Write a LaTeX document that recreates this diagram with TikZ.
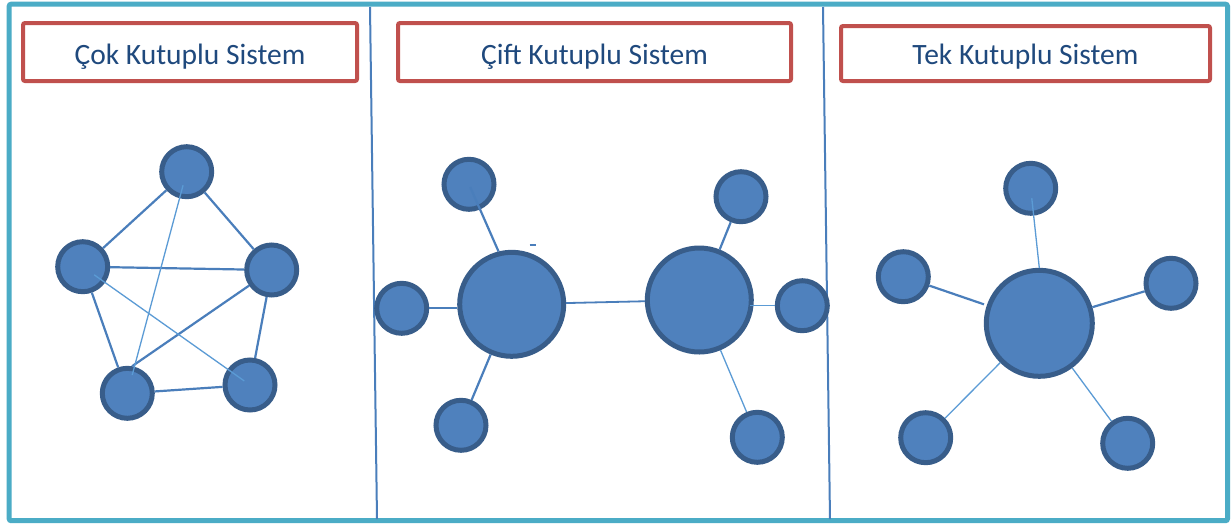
\documentclass[tikz,border=0pt]{standalone}
\usepackage{fontspec}
\setmainfont{Carlito}
\definecolor{frameteal}{HTML}{4BACC6}
\definecolor{boxred}{HTML}{C0504D}
\definecolor{textblue}{HTML}{1F497D}
\definecolor{circfill}{HTML}{4F81BD}
\definecolor{circedge}{HTML}{385D8A}
\definecolor{linedark}{HTML}{4A7EBB}
\definecolor{linelight}{HTML}{5B9BD5}
\begin{document}
\begin{tikzpicture}[x=1pt,y=-1pt,
  sat/.style={circle, draw=circedge, fill=circfill, line width=5pt, minimum size=50pt, inner sep=0pt},
  hubnode/.style={sat, minimum size=104pt},
  strongline/.style={draw=linedark, line width=2.2pt},
  softline/.style={draw=linelight, line width=1.3pt},
  divider/.style={draw=linedark, line width=2pt},
  titlebox/.style={draw=boxred, line width=4pt, rounded corners=2pt, minimum height=58pt, inner sep=0pt},
  titletext/.style={text=textblue, font=\fontsize{29.5}{35}\selectfont, anchor=base, inner sep=0pt},
]
\useasboundingbox (0,0) rectangle (1232,523);
\fill[white] (0,0) rectangle (1232,523);
% outer frame
\draw[draw=frameteal, line width=5pt, rounded corners=2pt] (9.2,4.2) rectangle (1227.5,520.7);
% dividers
\coordinate (d1a) at (370,7);
\coordinate (d1b) at (377,519);
\coordinate (d2a) at (823,7);
\coordinate (d2b) at (830,519);
\draw[divider] (d1a) -- (d1b);
\draw[divider] (d2a) -- (d2b);
% titles
\node[titlebox, minimum width=334pt] (b1) at (190,52) {};
\node[titletext] (t1) at ([yshift=-12.5pt]b1.center) {Çok Kutuplu Sistem};
\node[titlebox, minimum width=393pt] (b2) at (594.5,52) {};
\node[titletext] (t2) at ([yshift=-12.5pt]b2.center) {Çift Kutuplu Sistem};
\node[titlebox, minimum width=369pt, minimum height=55pt] (b3) at (1025.5,53.5) {};
\node[titletext] (t3) at ([yshift=-11pt]b3.center) {Tek Kutuplu Sistem};
% panel 1
\node[sat] (p1t) at (186.7,171.7) {};
\node[sat] (p1l) at (82.7,266.7) {};
\node[sat] (p1r) at (271.7,270) {};
\node[sat] (p1bl) at (127.3,393.3) {};
\node[sat] (p1br) at (250,385) {};
\draw[strongline] (p1t) -- (p1l);
\draw[strongline] (p1t) -- (p1r);
\draw[strongline] (p1l) -- (p1r);
\draw[strongline] (p1l) -- (p1bl);
\draw[strongline] (p1r) -- (p1br);
\draw[strongline] (p1bl) -- (p1br);
\draw[strongline] (p1r) -- (p1bl.80);
\draw[softline, shorten <=14pt, shorten >=19pt] (p1t.center) -- (p1bl.center);
\draw[softline, shorten <=14pt, shorten >=7pt] (p1l.center) -- (p1br.center);
% panel 2
\node[hubnode] (lh) at (511.7,304.3) {};
\node[hubnode] (rh) at (699.3,300) {};
\node[sat] (lts) at (469,184.3) {};
\node[sat] (lls) at (401.7,308.3) {};
\node[sat] (lbs) at (461,425.3) {};
\node[sat] (rts) at (741,196.7) {};
\node[sat] (rrs) at (802.3,305.7) {};
\node[sat] (rbs) at (757.3,437.3) {};
\draw[strongline, line width=1.8pt] (lh) -- (rh);
\draw[strongline, shorten <=3pt] (lts.center) -- (lh.104);
\draw[strongline] (lls.east) -- (lls.east -| lh.west);
\draw[strongline] (lh) -- (lbs);
\draw[strongline] (rh) -- (rts);
\draw[softline, shorten >=-4pt] (rrs.west) -- (rrs.west -| rh.east);
\draw[softline] (rh) -- (rbs);
\coordinate (dasha) at (529.5,245);
\coordinate (dashb) at (535.5,245);
\draw[strongline, line width=1.5pt] (dasha) -- (dashb);
% panel 3
\node[hubnode, minimum size=106pt] (sh) at (1039.3,323.3) {};
\node[sat] (st) at (1030.7,188.3) {};
\node[sat] (sl) at (903.3,276.7) {};
\node[sat] (sr) at (1171,283.3) {};
\node[sat] (sbl) at (925.7,437.7) {};
\node[sat] (sbr) at (1127.7,443.3) {};
\draw[softline, shorten <=10pt] (st.center) -- (sh.north);
\draw[strongline, shorten >=3pt] (sl) -- (sh);
\draw[strongline] (sh) -- (sr);
\draw[softline] (sh) -- (sbl);
\draw[softline] (sh) -- (sbr);
\end{tikzpicture}
\end{document}
